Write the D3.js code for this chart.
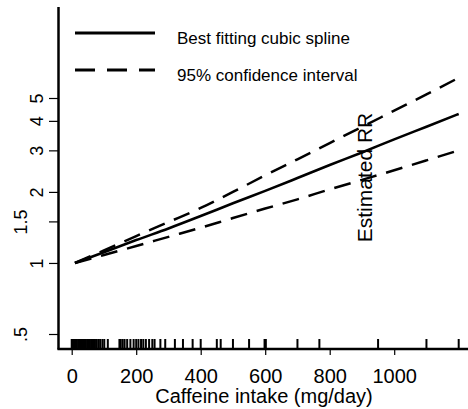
<!DOCTYPE html>
<html>
<head>
<meta charset="utf-8">
<script src="https://cdn.jsdelivr.net/npm/d3@7"></script>
<style>
  body { margin: 0; background: #fff; }
  svg { display: block; font-family: "Liberation Sans", Arial, sans-serif; }
</style>
</head>
<body>
<svg width="468" height="409"></svg>
<script>
// caffeine dose points (mg/day) and estimated relative risks
const dose = [10, 100, 200, 300, 400, 500, 600, 700, 800, 900, 1000, 1100, 1200];
const rrFit = [1.00, 1.11, 1.25, 1.40, 1.58, 1.79, 2.02, 2.29, 2.60, 2.94, 3.34, 3.78, 4.28];
const rrUpper = [1.00, 1.13, 1.30, 1.49, 1.71, 2.00, 2.35, 2.75, 3.22, 3.77, 4.42, 5.18, 6.09];
const rrLower = [1.00, 1.08, 1.18, 1.29, 1.41, 1.55, 1.70, 1.86, 2.05, 2.25, 2.47, 2.72, 3.00];

// observed intakes shown as a rug along the x axis
const rug = [0, 4, 8, 12, 16, 20, 24, 28, 32, 36, 40, 44, 48, 52, 56, 60, 64, 68, 72, 76, 82, 88, 95, 101, 112,
  148, 152, 158, 164, 172, 182, 192, 200, 207, 215, 222, 230, 240, 250, 257,
  275, 290, 320, 345, 375, 400, 450, 462, 500, 550, 598, 602, 700, 768, 950, 1100, 1200];

const xTicks = [0, 200, 400, 600, 800, 1000];
const yTicks = [0.5, 1, 1.5, 2, 3, 4, 5];
const yLabels = [".5", "1", "1.5", "2", "3", "4", "5"];

const svg = d3.select("svg");
const x = d3.scaleLinear().domain([0, 1200]).range([71.7, 458.7]);
const y = d3.scaleLog().domain([0.5, 5]).range([334, 98]);

// axes lines
svg.append("line")
  .attr("x1", 58.5).attr("x2", 58.5).attr("y1", 7).attr("y2", 349.5)
  .attr("stroke", "#000").attr("stroke-width", 2.5);
svg.append("line")
  .attr("x1", 57.5).attr("x2", 468).attr("y1", 349).attr("y2", 349)
  .attr("stroke", "#000").attr("stroke-width", 2.5);

// x axis
const gx = svg.append("g")
  .attr("transform", "translate(0,349)")
  .call(d3.axisBottom(x).tickValues(xTicks).tickSize(6).tickPadding(14).tickFormat(d3.format("d")));
gx.select(".domain").remove();
gx.selectAll(".tick line").attr("stroke", "#000").attr("stroke-width", 1.2);
gx.selectAll(".tick text")
  .attr("font-size", 20).attr("font-family", "Liberation Sans, Arial, sans-serif").attr("fill", "#000");

svg.append("text")
  .attr("x", 264).attr("y", 403)
  .attr("text-anchor", "middle")
  .attr("font-size", 20)
  .text("Caffeine intake (mg/day)");

// y axis
const gy = svg.append("g")
  .attr("transform", "translate(58,0)")
  .call(d3.axisLeft(y).tickValues(yTicks).tickSize(9).tickFormat((d, i) => yLabels[i]));
gy.select(".domain").remove();
gy.selectAll(".tick line").attr("stroke", "#000").attr("stroke-width", 1.2);
gy.selectAll(".tick text")
  .attr("font-size", 18).attr("font-family", "Liberation Sans, Arial, sans-serif").attr("fill", "#000")
  .attr("text-anchor", "middle")
  .attr("dy", null).attr("x", null)
  .attr("transform", d => {
    const off = (d === 1.5 || d === 0.5) ? -31 : -15;
    return `translate(${off},0) rotate(-90)`;
  });

// rug
svg.append("g")
  .selectAll("line")
  .data(rug)
  .join("line")
  .attr("x1", d => x(d)).attr("x2", d => x(d))
  .attr("y1", 339).attr("y2", 349)
  .attr("stroke", "#000").attr("stroke-width", 2);

// curves
const pts = v => dose.map((d, i) => [d, v[i]]);
const line = d3.line().x(d => x(d[0])).y(d => y(d[1])).curve(d3.curveMonotoneX);

svg.append("path").attr("d", line(pts(rrUpper)))
  .attr("fill", "none").attr("stroke", "#000").attr("stroke-width", 2.5).attr("stroke-dasharray", "17,10");
svg.append("path").attr("d", line(pts(rrLower)))
  .attr("fill", "none").attr("stroke", "#000").attr("stroke-width", 2.5).attr("stroke-dasharray", "17,10");
svg.append("path").attr("d", line(pts(rrFit)))
  .attr("fill", "none").attr("stroke", "#000").attr("stroke-width", 2.6);

// y axis title (drawn inside the plot as in the original)
svg.append("text")
  .attr("transform", "translate(372,177.5) rotate(-90)")
  .attr("text-anchor", "middle")
  .attr("font-size", 21)
  .text("Estimated RR");

// legend
const legend = [
  { label: "Best fitting cubic spline", dash: null, y: 33 },
  { label: "95% confidence interval", dash: "20,12", y: 70 }
];
const lg = svg.append("g");
legend.forEach(l => {
  lg.append("line")
    .attr("x1", 75).attr("x2", 155).attr("y1", l.y).attr("y2", l.y)
    .attr("stroke", "#000").attr("stroke-width", 3)
    .attr("stroke-dasharray", l.dash);
  lg.append("text")
    .attr("x", 177).attr("y", l.y + 11)
    .attr("font-size", 17)
    .text(l.label);
});
</script>
</body>
</html>
